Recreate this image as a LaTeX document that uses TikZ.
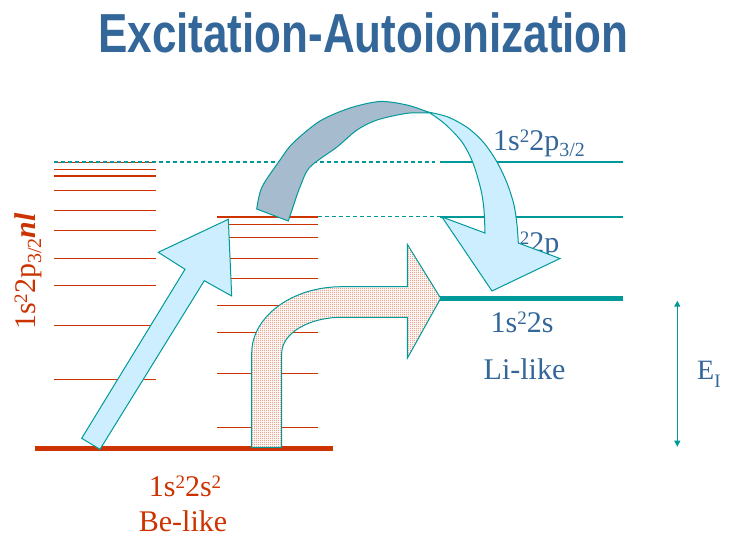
\documentclass[tikz,border=0pt]{standalone}
\usepackage{fontspec}
\setmainfont{Liberation Serif}
\newfontfamily\titlefont{Liberation Sans}
\usetikzlibrary{patterns,arrows.meta}
\definecolor{lvlred}{RGB}{204,51,0}
\definecolor{txtblue}{RGB}{51,102,153}
\definecolor{tealc}{RGB}{0,153,153}
\definecolor{lblue}{RGB}{204,238,255}
\definecolor{grayblue}{RGB}{166,187,206}
\pgfdeclarepatternformonly{densedots}{\pgfpointorigin}{\pgfpoint{2pt}{2pt}}{\pgfpoint{2pt}{2pt}}{%
  \pgfpathrectangle{\pgfpoint{0.45pt}{0.45pt}}{\pgfpoint{1.1pt}{1.1pt}}\pgfusepath{fill}}
\newcommand{\spw}[1]{\raisebox{8pt}{\fontsize{19}{19}\selectfont #1}}
\newcommand{\sbw}[1]{\raisebox{-6pt}{\fontsize{20}{20}\selectfont #1}}
\tikzset{
  lvl/.style={draw=lvlred,line width=1.3pt},
  tlvl/.style={draw=tealc,line width=1.2pt},
  tdash/.style={draw=tealc,line width=1.2pt,dash pattern=on 4pt off 3pt},
  arrowshape/.style={draw=tealc,line width=1pt,line join=miter},
  lbl/.style={inner sep=0pt,font=\fontsize{30}{30}\selectfont},
}
\begin{document}
\begin{tikzpicture}[x=1pt,y=-1pt]
\useasboundingbox (0,0) rectangle (733,544);
% title
\node[inner sep=0pt,anchor=base,text=txtblue,font=\titlefont\bfseries\fontsize{55}{55}\selectfont,xscale=0.8] (title) at (363.5,52.3) {Excitation-Autoionization};
% left stack
\foreach \yy in {162.7,169.3,176,190.3,210.3,230.3,258.3,285.3,325.3,379.3}
  \draw[lvl] (54,\yy) -- (156,\yy);
% middle stack
\foreach \yy in {217,224.3,237.3,258.3,278.3,305.3,332.3,373.3,427.3}
  \draw[lvl] (217,\yy) -- (318,\yy);
% ground Be-like
\draw[draw=lvlred,line width=5pt] (35,448.3) -- (333,448.3);
% dashed connections
\draw[tdash] (54,162) -- (435,162);
\draw[tdash] (318,216.7) -- (440,216.7);
% right levels
\draw[tlvl] (440,162) -- (623,162);
\draw[tlvl] (440,217) -- (623,217);
\draw[draw=tealc,line width=5pt] (440,298.3) -- (623,298.3);
% E_I arrow
\coordinate (eitop) at (677.3,300.7);
\coordinate (eibot) at (677.3,446.7);
\draw[draw=tealc,line width=1.2pt,{Triangle[width=6pt,length=6pt]}-{Triangle[width=6pt,length=6pt]}] (eitop) -- (eibot);
\node[lbl,anchor=base west,text=txtblue,font=\fontsize{28}{28}\selectfont] (ei) at (697,379) {E\raisebox{-8pt}{\fontsize{19}{19}\selectfont I}};
% labels
\node[lbl,anchor=base west,text=txtblue] (p32) at (493,150) {1s\spw{2}2p\sbw{3/2}};
\node[lbl,anchor=base west,text=txtblue] (p12) at (493,252) {1s\spw{2}2p};
\node[lbl,anchor=base,text=txtblue] (s) at (522,332.7) {1s\spw{2}2s};
\node[lbl,anchor=base,text=txtblue] (li) at (524.5,379.3) {Li-like};
\node[lbl,anchor=base,text=lvlred] (ss) at (185,496) {1s\spw{2}2s\spw{2}};
\node[lbl,anchor=base,text=lvlred] (be) at (183,531) {Be-like};
\node[lbl,anchor=base west,text=lvlred,rotate=90] (nl) at (35,330) {1s\spw{2}2p\sbw{3/2}\textbf{\textit{nl}}};
% excitation arrow (up)
\filldraw[arrowshape,fill=lblue] (81.7,438.3) -- (185,269.3) -- (158.3,252.3) -- (228.3,219.3) -- (231.7,296) -- (204.3,280.7) -- (100,449.3) -- cycle;
% dotted bent arrow
\path[fill=white] (251.7,447.3) -- (251.7,353.3) .. controls (251.7,316.5) and (292,286.7) .. (341.7,286.7) -- (407.3,286.7) -- (407.3,244.3) -- (440.7,298.3) -- (407.3,358.3) -- (407.3,317.3) -- (341.7,317.3) .. controls (308.6,317.3) and (281.7,333.4) .. (281.7,353.3) -- (281.7,447.3) -- cycle;
\filldraw[arrowshape,pattern=densedots,pattern color=lvlred] (251.7,447.3) -- (251.7,353.3) .. controls (251.7,316.5) and (292,286.7) .. (341.7,286.7) -- (407.3,286.7) -- (407.3,244.3) -- (440.7,298.3) -- (407.3,358.3) -- (407.3,317.3) -- (341.7,317.3) .. controls (308.6,317.3) and (281.7,333.4) .. (281.7,353.3) -- (281.7,447.3) -- cycle;
% curved arrow: gray back part
\filldraw[arrowshape,fill=grayblue] plot[smooth] coordinates {(256.7,209) (262,187) (280,160) (293,143) (320,121) (350,108) (380,101.5) (407,105) (428,112)} -- plot[smooth] coordinates {(428,113) (407,113.3) (377,120) (357,130) (337,147) (310,167) (300,187) (293,207) (288.3,221)} -- cycle;
% curved arrow: light blue front part with head
\filldraw[arrowshape,fill=lblue] plot[smooth] coordinates {(428,112) (448,117) (468,128) (484,143) (497,162) (507,183) (514,205) (517,225) (518.3,243)} -- (560,258.5) -- (492,291) -- (442,217) -- plot[smooth] coordinates {(485,233) (484,210) (481,190) (473,163) (462,142) (445,124) (430,113)} -- cycle;
\end{tikzpicture}
\end{document}
